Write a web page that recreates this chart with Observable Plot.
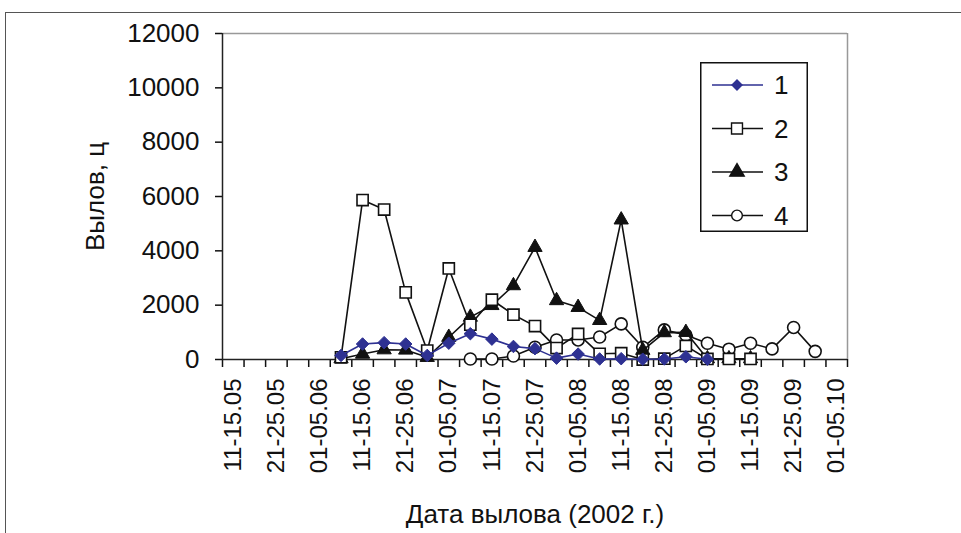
<!DOCTYPE html>
<html><head><meta charset="utf-8">
<script src="https://cdn.jsdelivr.net/npm/d3@7"></script>
<script src="https://cdn.jsdelivr.net/npm/@observablehq/plot@0.6"></script>
<style>
body{margin:0;background:#fff;font-family:"Liberation Sans",Arial,sans-serif;}
#wrap{position:relative;width:961px;height:533px;overflow:hidden;background:#fff}
#frame{position:absolute;left:5px;top:12px;width:2000px;height:2000px;border-left:1.5px solid #555;border-top:1.5px solid #555;box-sizing:border-box}
#chart{position:absolute;left:0;top:0}
#legend{position:absolute;left:700px;top:62px}
</style></head><body>
<div id="wrap"><div id="frame"></div><div id="chart"></div><div id="legend"></div></div>
<script>
const categories = ["11-15.05","16-20.05","21-25.05","26-31.05","01-05.06","06-10.06","11-15.06","16-20.06","21-25.06","26-30.06","01-05.07","06-10.07","11-15.07","16-20.07","21-25.07","26-31.07","01-05.08","06-10.08","11-15.08","16-20.08","21-25.08","26-31.08","01-05.09","06-10.09","11-15.09","16-20.09","21-25.09","26-30.09","01-05.10"];
const seriesNames = ["1","2","3","4"];
const s1 = [null,null,null,null,null,150,570,620,570,150,600,950,750,480,400,50,200,20,30,10,20,100,10,null,null,null,null,null,null];
const s2 = [null,null,null,null,null,80,5870,5520,2470,330,3350,1280,2200,1650,1230,420,940,210,230,0,30,500,20,20,20,null,null,null,null];
const s3 = [null,null,null,null,null,30,200,360,350,80,820,1560,1990,2720,4130,2170,1920,1440,5140,340,990,1000,30,30,30,null,null,null,null];
const s4 = [null,null,null,null,null,null,null,null,null,null,null,20,20,130,450,720,720,830,1310,450,1090,900,600,380,600,390,1180,300,null];
const yTicks = [0,2000,4000,6000,8000,10000,12000];

const toRows = (arr) => arr.map((v,i)=>({i, v})).filter(d=>d.v!=null);
const r1 = toRows(s1), r2 = toRows(s2), r3 = toRows(s3), r4 = toRows(s4);

const diamond = {draw(ctx, size){ const r = Math.sqrt(size/2); ctx.moveTo(0,-r); ctx.lineTo(r,0); ctx.lineTo(0,r); ctx.lineTo(-r,0); ctx.closePath(); }};
const BLUE = "#2e3192";
const boundaries = d3.range(categories.length+1).map(i=>i-0.5);
const labelIdx = d3.range(0, categories.length, 2);

const chart = Plot.plot({
  width: 961, height: 533,
  marginLeft: 222, marginRight: 114, marginTop: 33, marginBottom: 174,
  style: {fontFamily: '"Liberation Sans", Arial, sans-serif', color: "#111", background: "transparent"},
  x: {type: "linear", domain: [-0.5, categories.length-0.5]},
  y: {domain: [0, 12000]},
  marks: [
    Plot.ruleY([12000], {stroke: "#999", strokeWidth: 1.5}),
    Plot.ruleX([categories.length-0.5], {stroke: "#999", strokeWidth: 1.5}),
    Plot.axisY({ticks: yTicks, tickSize: 7, tickPadding: 16, fontSize: 26, tickFormat: d3.format("d"), label: null, strokeWidth: 1.5}),
    Plot.axisX({ticks: boundaries, tickSize: 8, tickFormat: () => "", label: null, strokeWidth: 1.5}),
    Plot.axisX({ticks: labelIdx, tickSize: 0, tickPadding: 19, tickRotate: -90, fontSize: 24, tickFormat: i => categories[i], label: null}),
    Plot.ruleX([-0.5], {stroke: "#222", strokeWidth: 1.5}),
    Plot.ruleY([0], {stroke: "#222", strokeWidth: 1.5}),
    Plot.line(r4, {x: "i", y: "v", stroke: "#111", strokeWidth: 1.6}),
    Plot.dot(r4, {x: "i", y: "v", symbol: "circle", r: 6, fill: "white", stroke: "#111", strokeWidth: 1.6}),
    Plot.line(r3, {x: "i", y: "v", stroke: "#111", strokeWidth: 1.6}),
    Plot.dot(r3, {x: "i", y: "v", symbol: "triangle", r: 5.3, fill: "#111", stroke: "#111", strokeWidth: 1}),
    Plot.line(r2, {x: "i", y: "v", stroke: "#111", strokeWidth: 1.6}),
    Plot.dot(r2, {x: "i", y: "v", symbol: "square", r: 6.3, fill: "white", stroke: "#111", strokeWidth: 1.6}),
    Plot.line(r1, {x: "i", y: "v", stroke: BLUE, strokeWidth: 1.6}),
    Plot.dot(r1, {x: "i", y: "v", symbol: diamond, r: 5, fill: BLUE, stroke: BLUE, strokeWidth: 1}),
    Plot.text(["Вылов, ц"], {frameAnchor: "left", dx: -127, rotate: -90, textAnchor: "middle", fontSize: 26, fill: "#111"}),
    Plot.text(["Дата вылова (2002 г.)"], {frameAnchor: "bottom", dy: 163, fontSize: 26, fill: "#111"})
  ]
});
document.getElementById("chart").appendChild(chart);

// Legend
const lw = 108, lh = 170;
const lsvg = d3.create("svg").attr("width", lw).attr("height", lh)
  .style("font-family", '"Liberation Sans", Arial, sans-serif');
lsvg.append("rect").attr("x", 0.75).attr("y", 0.75).attr("width", lw-1.5).attr("height", lh-1.5)
  .attr("fill", "white").attr("stroke", "#111").attr("stroke-width", 1.5);
const symbols = [
  {name: seriesNames[0], color: BLUE, sym: diamond, size: 50, fill: BLUE},
  {name: seriesNames[1], color: "#111", sym: d3.symbolSquare, size: 120, fill: "white"},
  {name: seriesNames[2], color: "#111", sym: d3.symbolTriangle, size: 90, fill: "#111"},
  {name: seriesNames[3], color: "#111", sym: d3.symbolCircle, size: 90, fill: "white"}
];
symbols.forEach((s, k) => {
  const y = 23 + k*43.5;
  lsvg.append("line").attr("x1", 12).attr("x2", 63).attr("y1", y).attr("y2", y).attr("stroke", s.color).attr("stroke-width", 1.6);
  lsvg.append("path").attr("d", d3.symbol(s.sym, s.size)()).attr("transform", `translate(37,${y})`)
    .attr("fill", s.fill).attr("stroke", s.color).attr("stroke-width", 1.4);
  lsvg.append("text").attr("x", 74).attr("y", y).attr("dy", "0.36em").attr("font-size", 26).attr("fill", "#111").text(s.name);
});
document.getElementById("legend").appendChild(lsvg.node());
</script>
</body></html>
